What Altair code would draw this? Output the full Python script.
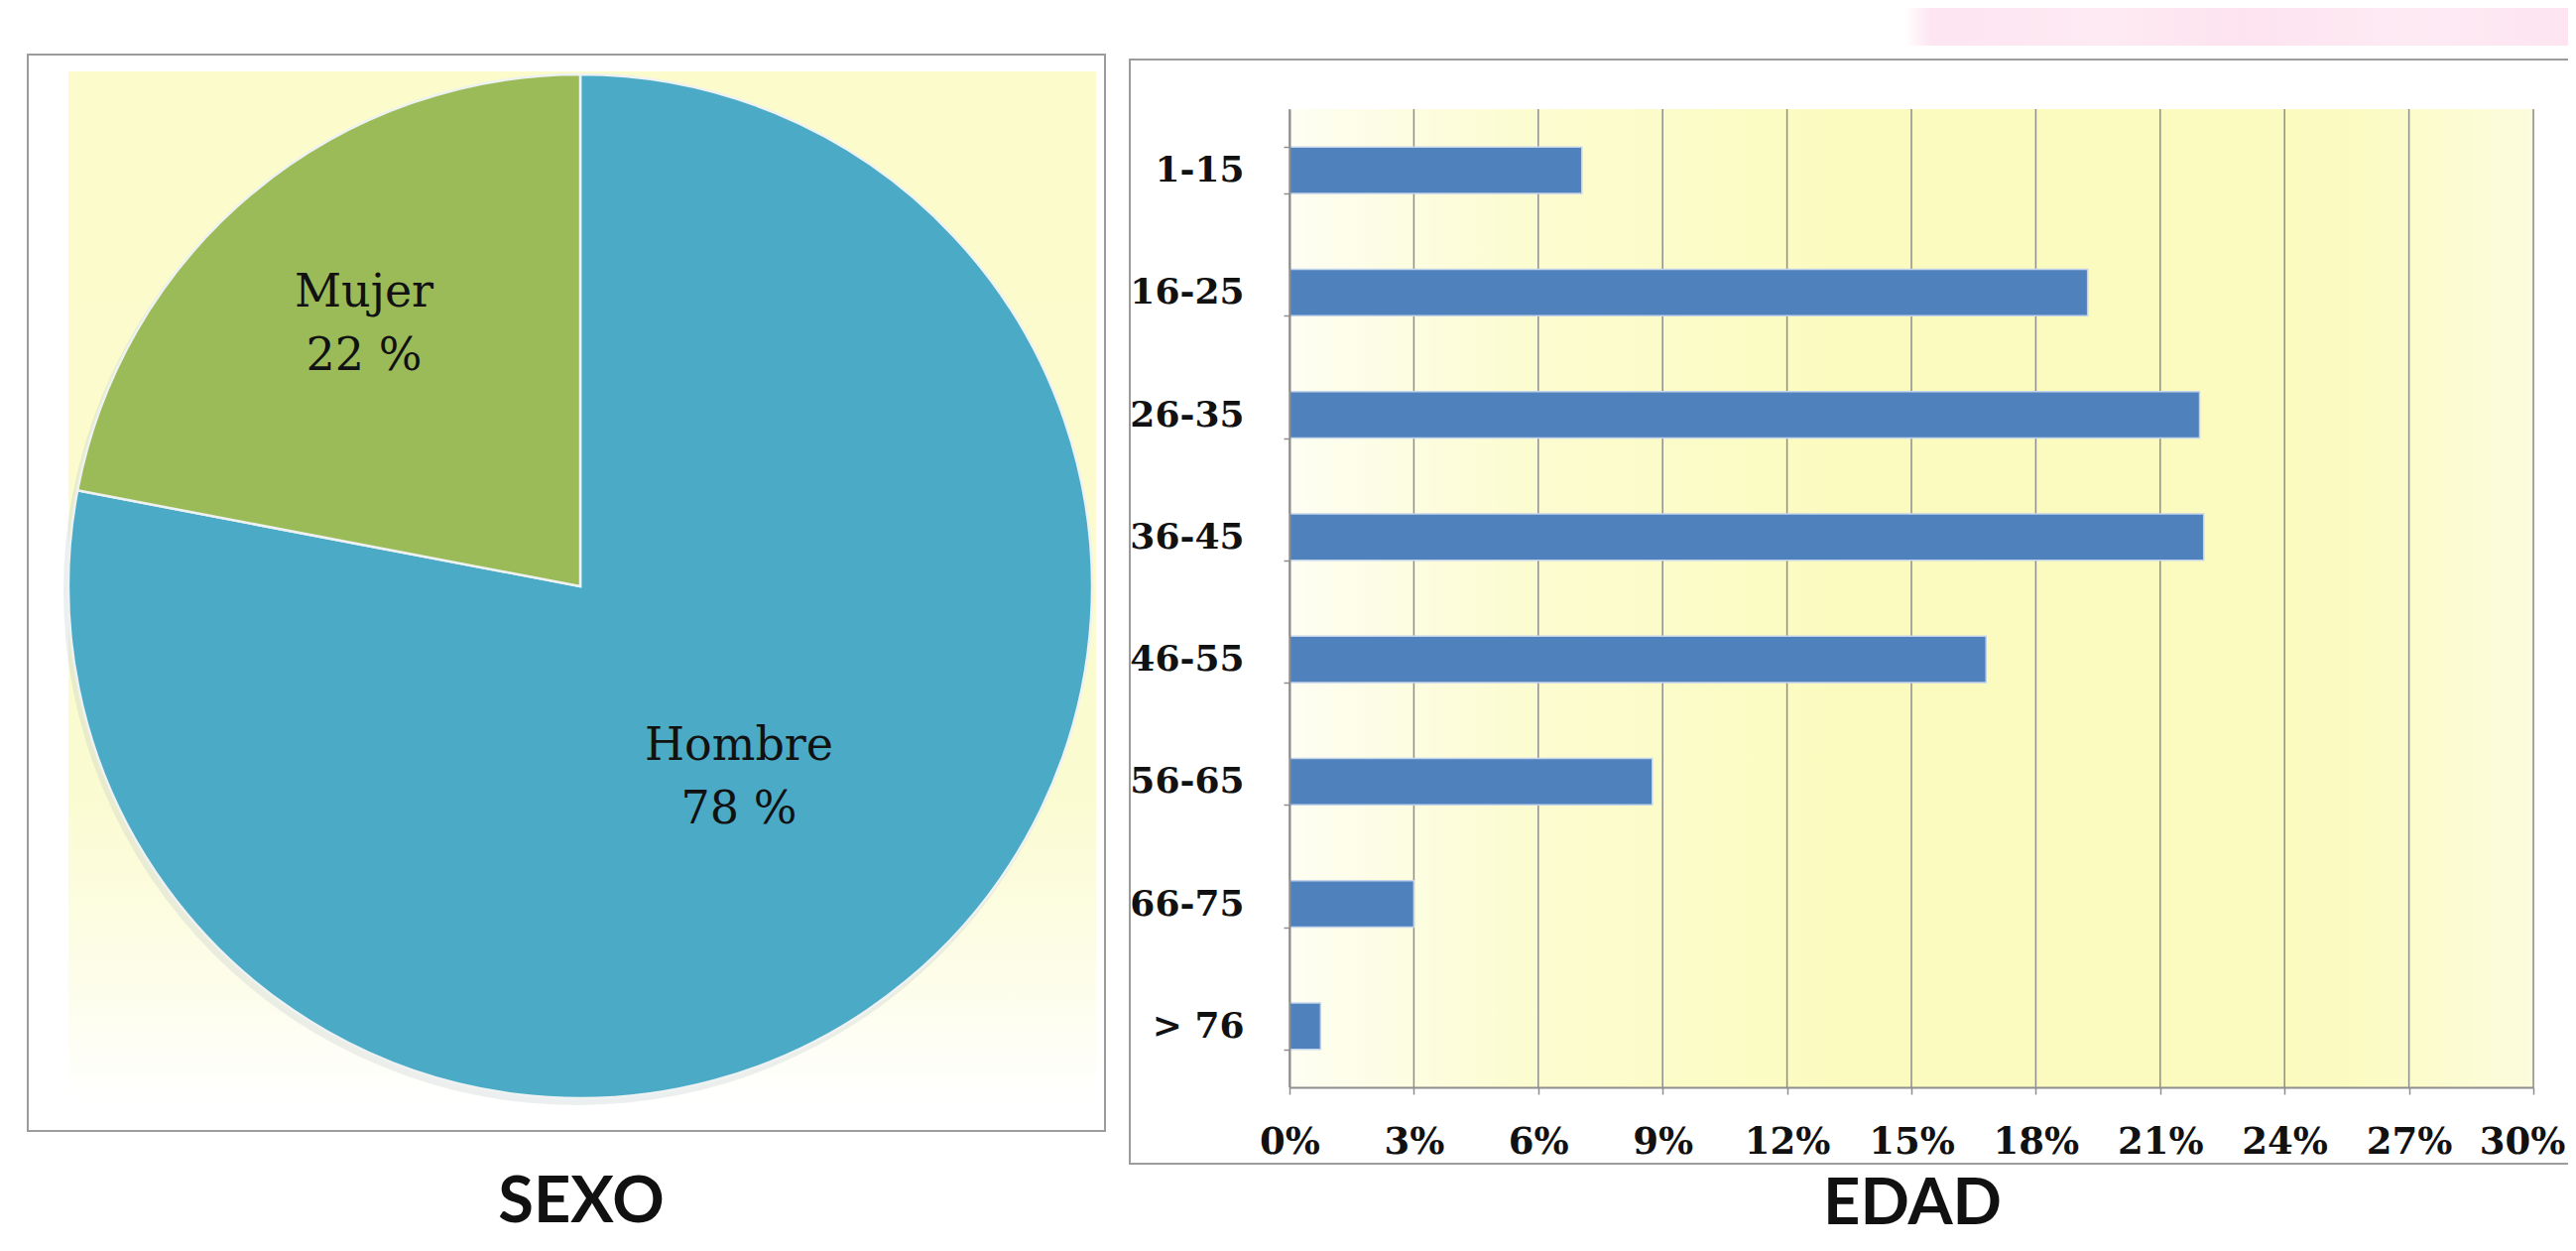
import altair as alt
import pandas as pd

# ---- data ----
sexo = ["Hombre", "Mujer"]
sexo_pct = [78, 22]
sexo_orden = [0, 1]

edad = ["1-15", "16-25", "26-35", "36-45", "46-55", "56-65", "66-75", "> 76"]
edad_pct = [7.05, 19.25, 21.95, 22.05, 16.8, 8.75, 3.0, 0.75]

x_ticks = [0, 3, 6, 9, 12, 15, 18, 21, 24, 27, 30]

# ---- styles ----
teal = "#4BAAC6"
green = "#9BBB59"
blue = "#4F81BD"
box_col = "#9C9C9C"
grid_col = "#8E8E8E"

sexo_df = pd.DataFrame({"sexo": sexo, "pct": sexo_pct, "orden": sexo_orden})
edad_df = pd.DataFrame({"edad": edad, "pct": edad_pct})
tick_df = pd.DataFrame({"v": x_ticks})
one = pd.DataFrame({"k": [0]})

W, H = 1254, 986

# Pie panel geometry (relative to bar plot origin)
PCX, PCY, PR = -715, 481, 516

left_bg = alt.Chart(one).mark_rect(
    fill={"gradient": "linear", "x1": 0, "y1": 0, "x2": 0, "y2": 1,
          "stops": [{"offset": 0, "color": "#FBFBCB"},
                    {"offset": 0.7, "color": "#FBFBD1"},
                    {"offset": 0.88, "color": "#FDFDEA"},
                    {"offset": 1, "color": "#FFFFFF"}]}
).encode(x=alt.value(-1231), x2=alt.value(-195), y=alt.value(-38), y2=alt.value(1002))

left_box = alt.Chart(one).mark_rect(fill=None, stroke=box_col, strokeWidth=2).encode(
    x=alt.value(-1272), x2=alt.value(-186), y=alt.value(-55), y2=alt.value(1030))

right_box = alt.Chart(one).mark_rect(fill=None, stroke=box_col, strokeWidth=2).encode(
    x=alt.value(-161), x2=alt.value(1320), y=alt.value(-50), y2=alt.value(1063))

pink = alt.Chart(one).mark_rect(
    fill={"gradient": "linear", "x1": 0, "y1": 0, "x2": 1, "y2": 0,
          "stops": [{"offset": 0, "color": "#FFFFFF"},
                    {"offset": 0.04, "color": "#FDE5F1"},
                    {"offset": 0.3, "color": "#FDEAF3"},
                    {"offset": 0.5, "color": "#FDE3EF"},
                    {"offset": 0.75, "color": "#FDEBF4"},
                    {"offset": 1, "color": "#FDE4F0"}]}
).encode(x=alt.value(620), x2=alt.value(1300), y=alt.value(-104), y2=alt.value(-64))

right_bg = alt.Chart(one).mark_rect(
    fill={"gradient": "linear", "x1": 0, "y1": 0, "x2": 1, "y2": 0,
          "stops": [{"offset": 0, "color": "#FEFEF3"},
                    {"offset": 0.18, "color": "#FCFCD2"},
                    {"offset": 0.45, "color": "#FBFBBF"},
                    {"offset": 0.85, "color": "#FBFBC1"},
                    {"offset": 1, "color": "#FCFCDE"}]}
).encode(x=alt.value(0), x2=alt.value(W), y=alt.value(0), y2=alt.value(H))

pie_shadow = alt.Chart(one).mark_arc(radius=PR + 2, fill="#A9B8BC", opacity=0.22).encode(
    theta=alt.value(6.2832), x=alt.value(PCX - 3), y=alt.value(PCY + 5))

pie = alt.Chart(sexo_df).mark_arc(radius=PR, stroke="#EEF2F2", strokeWidth=2.5).encode(
    theta=alt.Theta("pct:Q", stack=True),
    color=alt.Color("sexo:N", scale=alt.Scale(domain=sexo, range=[teal, green]), legend=None),
    order=alt.Order("orden:Q"),
    x=alt.value(PCX), y=alt.value(PCY),
)

lab_base = alt.Chart(sexo_df).transform_calculate(
    label="[datum.sexo, datum.pct + ' %']"
)
lab_mujer = lab_base.mark_text(font="DejaVu Serif", fontSize=46, lineHeight=64, dy=-32,
                               color="#111111", baseline="middle", align="center", radius=342).encode(
    theta=alt.Theta("pct:Q", stack=True),
    order=alt.Order("orden:Q"),
    text=alt.condition("datum.sexo == 'Mujer'", alt.Text("label:N"), alt.value("")),
    x=alt.value(PCX), y=alt.value(PCY),
)
lab_hombre = lab_base.mark_text(font="DejaVu Serif", fontSize=46, lineHeight=64, dy=-32,
                                color="#111111", baseline="middle", align="center", radius=251).encode(
    theta=alt.Theta("pct:Q", stack=True),
    order=alt.Order("orden:Q"),
    text=alt.condition("datum.sexo == 'Hombre'", alt.Text("label:N"), alt.value("")),
    x=alt.value(PCX), y=alt.value(PCY),
)

xscale = alt.Scale(domain=[0, 30], nice=False, zero=True)

grid = alt.Chart(tick_df).mark_rule(color=grid_col, strokeWidth=1.5).encode(
    x=alt.X("v:Q", scale=xscale, title=None))

bars = alt.Chart(edad_df).mark_bar(color=blue, stroke="#C3D3EA", strokeWidth=1.5).encode(
    x=alt.X("pct:Q", scale=xscale, title=None,
            axis=alt.Axis(values=x_ticks, labelExpr="datum.value + '%'", grid=False,
                          labelFont="DejaVu Serif", labelFontWeight="bold", labelFontSize=37,
                          labelColor="#111111", labelPadding=30, tickSize=7,
                          labelAlign={"condition": {"test": "datum.value == 30", "value": "right"},
                                      "value": "center"},
                          labelOffset={"condition": {"test": "datum.value == 30", "value": 32},
                                       "value": 0},
                          tickColor=grid_col, tickWidth=1.5, domainColor=grid_col,
                          domainWidth=2, labelFlush=False, labelOverlap=False, zindex=1)),
    y=alt.Y("edad:N", sort=edad, title=None,
            scale=alt.Scale(paddingInner=0.62, paddingOuter=0.31),
            axis=alt.Axis(labelFont="DejaVu Serif", labelFontWeight="bold", labelFontSize=36,
                          labelColor="#111111", labelPadding=40, tickSize=6, tickBand="extent",
                          tickColor=grid_col, tickWidth=1.5, domainColor=grid_col,
                          domainWidth=2, grid=False, zindex=1)),
)

t_sexo = alt.Chart(one).mark_text(font="Lato", fontWeight="bold", fontSize=65, color="#111111",
                                  align="center", baseline="alphabetic").encode(
    text=alt.value("SEXO"), x=alt.value(-714), y=alt.value(1122))
t_edad = alt.Chart(one).mark_text(font="Lato", fontWeight="bold", fontSize=65, color="#111111",
                                  align="center", baseline="alphabetic").encode(
    text=alt.value("EDAD"), x=alt.value(628), y=alt.value(1124))

chart = alt.layer(
    pink, left_bg, left_box, right_box, right_bg,
    pie_shadow, pie, lab_mujer, lab_hombre,
    grid, bars, t_sexo, t_edad,
).properties(
    width=W, height=H,
    autosize=alt.AutoSizeParams(type="none"),
    padding={"left": 1292, "top": 102, "right": 35, "bottom": 152},
).configure_view(stroke=None).configure(background="white")

chart.save("out.html", embed_options={"renderer": "svg", "actions": False})
